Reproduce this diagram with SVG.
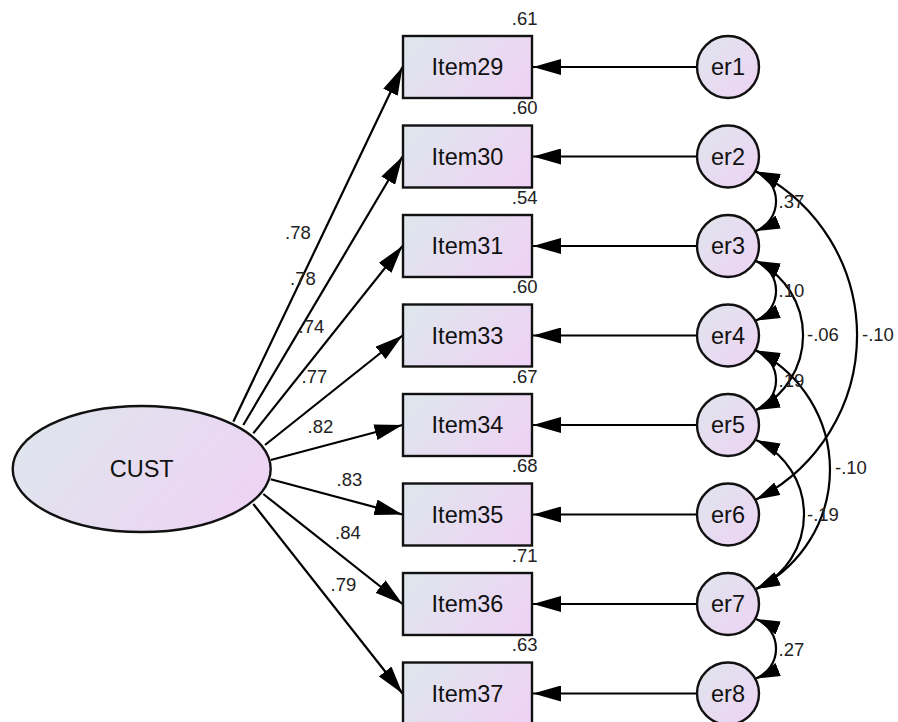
<svg xmlns="http://www.w3.org/2000/svg" width="898" height="722" viewBox="0 0 898 722">
<style>
.node{stroke:#111;stroke-width:2.4;fill:url(#g)}
.box{stroke:#111;stroke-width:2.4;fill:url(#gh)}
.nt{font-family:"Liberation Sans",Arial,sans-serif;font-size:23.5px;fill:#111;text-anchor:middle}
.lb{font-family:"Liberation Sans",Arial,sans-serif;font-size:18.5px;fill:#222}
.lr{font-family:"Liberation Sans",Arial,sans-serif;font-size:18.5px;fill:#222;text-anchor:end}
.ln{fill:none;stroke:#000;stroke-width:2.2;marker-end:url(#ah)}
.arc{fill:none;stroke:#000;stroke-width:2.2;marker-start:url(#ah2);marker-end:url(#ah2)}
</style>
<defs>
<linearGradient id="g" x1="0" y1="0" x2="1" y2="1">
<stop offset="0" stop-color="#dfe5ed"/>
<stop offset="1" stop-color="#eed3f4"/>
</linearGradient>
<linearGradient id="gh" x1="0" y1="0.3" x2="1" y2="0.7">
<stop offset="0" stop-color="#dfe5ed"/>
<stop offset="1" stop-color="#eed3f4"/>
</linearGradient>
<marker id="ah" markerUnits="userSpaceOnUse" viewBox="0 0 28 16" markerWidth="28" markerHeight="16" refX="28" refY="8" orient="auto-start-reverse">
<path d="M0,0 L28,8 L0,16 z" fill="#000"/>
</marker>
<marker id="ah2" markerUnits="userSpaceOnUse" viewBox="0 0 24 14" markerWidth="24" markerHeight="14" refX="24" refY="7" orient="auto-start-reverse">
<path d="M0,0 L24,7 L0,14 z" fill="#000"/>
</marker>
</defs>
<rect width="898" height="722" fill="#fff"/>
<g id="connectors">
<path class="ln" d="M233.3,421.7 L402.5,67"/>
<path class="ln" d="M243.3,425 L402.5,156.5"/>
<path class="ln" d="M253.3,433.3 L402.5,246"/>
<path class="ln" d="M265,445 L402.5,335.5"/>
<path class="ln" d="M270.7,460 L402.5,425"/>
<path class="ln" d="M270.7,479.3 L402.5,514.5"/>
<path class="ln" d="M263.3,494 L402.5,604"/>
<path class="ln" d="M253.3,504 L402.5,693.5"/>
<path class="ln" d="M697,67 L533,67"/>
<path class="ln" d="M697,156.5 L533,156.5"/>
<path class="ln" d="M697,246 L533,246"/>
<path class="ln" d="M697,335.5 L533,335.5"/>
<path class="ln" d="M697,425 L533,425"/>
<path class="ln" d="M697,514.5 L533,514.5"/>
<path class="ln" d="M697,604 L533,604"/>
<path class="ln" d="M697,693.5 L533,693.5"/>
<path class="arc" d="M756,171.5 A32.1,32.1 0 0 1 756,231"/>
<path class="arc" d="M756,261 A32.1,32.1 0 0 1 756,320.5"/>
<path class="arc" d="M756,350.5 A32.1,32.1 0 0 1 756,410"/>
<path class="arc" d="M756,619 A32.1,32.1 0 0 1 756,678.5"/>
<path class="arc" d="M756,261 A82.5,82.5 0 0 1 756,410"/>
<path class="arc" d="M756,171.5 A183.6,183.6 0 0 1 756,499.5"/>
<path class="arc" d="M756,350.5 A133.1,133.1 0 0 1 756,589"/>
<path class="arc" d="M756,440 A81.8,81.8 0 0 1 756,589"/>
<text class="lb" x="285" y="239">.78</text>
<text class="lb" x="290" y="285">.78</text>
<text class="lb" x="298.5" y="333">.74</text>
<text class="lb" x="301.5" y="382.5">.77</text>
<text class="lb" x="307.5" y="433">.82</text>
<text class="lb" x="336.5" y="486">.83</text>
<text class="lb" x="335" y="539">.84</text>
<text class="lb" x="330.5" y="590.5">.79</text>
<text class="lb" x="778.5" y="207.5">.37</text>
<text class="lb" x="778.5" y="297">.10</text>
<text class="lb" x="778.5" y="386.5">.19</text>
<text class="lb" x="778.5" y="655.5">.27</text>
<text class="lb" x="807" y="341">-.06</text>
<text class="lb" x="862" y="341">-.10</text>
<text class="lb" x="835" y="474">-.10</text>
<text class="lb" x="807" y="521">-.19</text>
</g>
<g id="CUST">
<ellipse class="box" cx="141.7" cy="469" rx="129" ry="63"/>
<text class="nt" x="141.7" y="477.4">CUST</text>
</g>
<g id="Item29"><rect class="box" x="403" y="36" width="129" height="62"/><text class="nt" x="467.5" y="75.4">Item29</text><text class="lr" x="537.5" y="24.5">.61</text></g>
<g id="Item30"><rect class="box" x="403" y="125.5" width="129" height="62"/><text class="nt" x="467.5" y="164.9">Item30</text><text class="lr" x="537.5" y="114">.60</text></g>
<g id="Item31"><rect class="box" x="403" y="215" width="129" height="62"/><text class="nt" x="467.5" y="254.4">Item31</text><text class="lr" x="537.5" y="203.5">.54</text></g>
<g id="Item33"><rect class="box" x="403" y="304.5" width="129" height="62"/><text class="nt" x="467.5" y="343.9">Item33</text><text class="lr" x="537.5" y="293">.60</text></g>
<g id="Item34"><rect class="box" x="403" y="394" width="129" height="62"/><text class="nt" x="467.5" y="433.4">Item34</text><text class="lr" x="537.5" y="382.5">.67</text></g>
<g id="Item35"><rect class="box" x="403" y="483.5" width="129" height="62"/><text class="nt" x="467.5" y="522.9">Item35</text><text class="lr" x="537.5" y="472">.68</text></g>
<g id="Item36"><rect class="box" x="403" y="573" width="129" height="62"/><text class="nt" x="467.5" y="612.4">Item36</text><text class="lr" x="537.5" y="561.5">.71</text></g>
<g id="Item37"><rect class="box" x="403" y="662.5" width="129" height="62"/><text class="nt" x="467.5" y="701.9">Item37</text><text class="lr" x="537.5" y="651">.63</text></g>
<g id="er1"><circle class="node" cx="728" cy="67" r="31"/><text class="nt" x="728" y="75">er1</text></g>
<g id="er2"><circle class="node" cx="728" cy="156.5" r="31"/><text class="nt" x="728" y="164.5">er2</text></g>
<g id="er3"><circle class="node" cx="728" cy="246" r="31"/><text class="nt" x="728" y="254">er3</text></g>
<g id="er4"><circle class="node" cx="728" cy="335.5" r="31"/><text class="nt" x="728" y="343.5">er4</text></g>
<g id="er5"><circle class="node" cx="728" cy="425" r="31"/><text class="nt" x="728" y="433">er5</text></g>
<g id="er6"><circle class="node" cx="728" cy="514.5" r="31"/><text class="nt" x="728" y="522.5">er6</text></g>
<g id="er7"><circle class="node" cx="728" cy="604" r="31"/><text class="nt" x="728" y="612">er7</text></g>
<g id="er8"><circle class="node" cx="728" cy="693.5" r="31"/><text class="nt" x="728" y="701.5">er8</text></g>
</svg>
